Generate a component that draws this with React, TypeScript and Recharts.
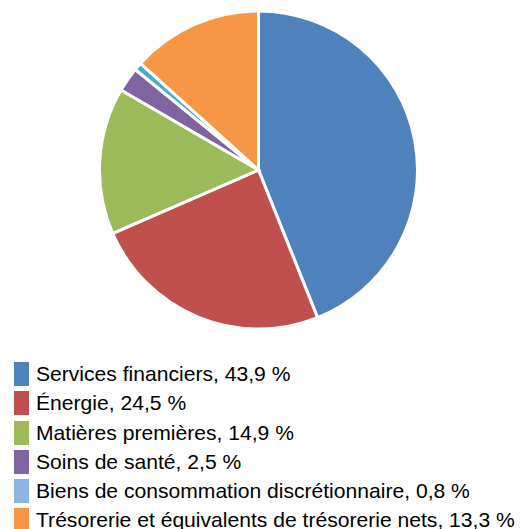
import { PieChart, Pie, Cell } from "recharts";

const categories = [
  "Services financiers",
  "Énergie",
  "Matières premières",
  "Soins de santé",
  "Biens de consommation discrétionnaire",
  "Trésorerie et équivalents de trésorerie nets",
];
const values = [43.9, 24.5, 14.9, 2.5, 0.8, 13.3];
const sliceColors = ["#4F81BD", "#C0504D", "#9BBB59", "#8064A2", "#4BACC6", "#F79646"];
const legendColors = ["#4F81BD", "#C0504D", "#9BBB59", "#8064A2", "#8DB4E2", "#F79646"];

const data = categories.map((name, i) => ({ name, value: values[i] }));

const fmt = (v: number) => v.toFixed(1).replace(".", ",");

export default function App() {
  return (
    <div
      style={{
        position: "absolute",
        top: 0,
        left: 0,
        width: 527,
        height: 529,
        overflow: "hidden",
        background: "#fff",
        fontFamily: "'Liberation Sans', Arial, sans-serif",
      }}
    >
      <PieChart width={527} height={340} margin={{ top: 0, right: 0, bottom: 0, left: 0 }}>
        <Pie
          data={data}
          dataKey="value"
          cx={258.5}
          cy={170}
          outerRadius={159}
          startAngle={90}
          endAngle={-270}
          stroke="#fff"
          strokeWidth={3}
          isAnimationActive={false}
        >
          {data.map((d, i) => (
            <Cell key={`cell-${i}`} fill={sliceColors[i]} />
          ))}
        </Pie>
      </PieChart>
      <div style={{ position: "absolute", top: 362, left: 14 }}>
        {data.map((d, i) => (
          <div key={d.name} style={{ display: "flex", height: 29.3 }}>
            <div style={{ width: 15, height: 24, background: legendColors[i], marginRight: 7 }} />
            <span style={{ fontSize: 21.1, color: "#000", whiteSpace: "nowrap", lineHeight: "24px" }}>
              {d.name}, {fmt(d.value)} %
            </span>
          </div>
        ))}
      </div>
    </div>
  );
}
